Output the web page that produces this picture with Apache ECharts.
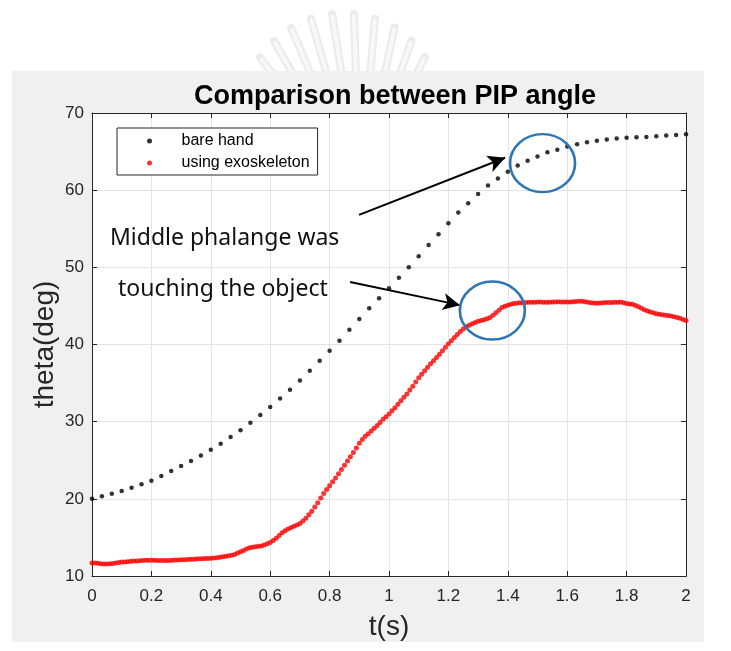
<!DOCTYPE html>
<html>
<head>
<meta charset="utf-8">
<script src="https://cdn.jsdelivr.net/npm/echarts@6/dist/echarts.min.js"></script>
<style>
  html, body { margin: 0; padding: 0; background: #ffffff; }
  #chart { width: 731px; height: 651px; }
</style>
</head>
<body>
<div id="chart"></div>
<script>
// Sampling rates of the two recordings (Hz)
const bareHandRate = 30;
const exoRate = 100;

// PIP joint angle (deg) of the bare hand, one value per frame at 30 Hz, t = 0 .. 2 s
const bareHandTheta = [
  20.00, 20.35, 20.65, 21.00, 21.45, 21.90, 22.35, 22.95, 23.60, 24.25,
  24.90, 25.60, 26.35, 27.15, 28.00, 28.90, 29.85, 30.85, 31.90, 33.00,
  34.15, 35.35, 36.60, 37.90, 39.20, 40.50, 41.90, 43.30, 44.70, 46.00,
  47.30, 48.65, 50.00, 51.45, 52.90, 54.30, 55.70, 57.10, 58.30, 59.50,
  60.60, 61.50, 62.40, 63.20, 63.80, 64.35, 64.90, 65.25, 65.65, 65.95,
  66.20, 66.40, 66.55, 66.70, 66.80, 66.85, 66.90, 67.00, 67.10, 67.15,
  67.24
];

// PIP joint angle (deg) using the exoskeleton, one value per frame at 100 Hz, t = 0 .. 2 s
const exoTheta = [
  11.70, 11.68, 11.64, 11.60, 11.57, 11.55, 11.58, 11.63, 11.70, 11.75,
  11.80, 11.83, 11.86, 11.90, 11.93, 11.95, 11.98, 12.00, 12.03, 12.05,
  12.05, 12.03, 12.01, 12.00, 12.00, 12.00, 12.02, 12.04, 12.06, 12.08,
  12.10, 12.12, 12.14, 12.16, 12.18, 12.20, 12.22, 12.24, 12.26, 12.28,
  12.30, 12.34, 12.38, 12.43, 12.49, 12.55, 12.62, 12.70, 12.80, 12.97,
  13.15, 13.32, 13.50, 13.65, 13.73, 13.80, 13.85, 13.90, 14.02, 14.17,
  14.35, 14.60, 14.90, 15.25, 15.60, 15.88, 16.10, 16.28, 16.45, 16.62,
  16.80, 17.12, 17.50, 17.93, 18.40, 18.93, 19.50, 20.10, 20.70, 21.20,
  21.70, 22.20, 22.70, 23.25, 23.80, 24.35, 24.90, 25.45, 26.00, 26.60,
  27.20, 27.68, 28.10, 28.45, 28.80, 29.15, 29.50, 29.90, 30.30, 30.65,
  31.00, 31.40, 31.80, 32.25, 32.70, 33.15, 33.60, 34.10, 34.60, 35.15,
  35.70, 36.15, 36.60, 37.05, 37.50, 37.90, 38.30, 38.75, 39.20, 39.65,
  40.10, 40.50, 40.90, 41.30, 41.70, 42.00, 42.30, 42.50, 42.70, 42.85,
  43.00, 43.10, 43.20, 43.35, 43.50, 43.80, 44.10, 44.45, 44.80, 44.95,
  45.10, 45.20, 45.30, 45.35, 45.40, 45.42, 45.44, 45.46, 45.48, 45.49,
  45.50, 45.50, 45.48, 45.47, 45.48, 45.50, 45.52, 45.53, 45.52, 45.50,
  45.50, 45.52, 45.55, 45.58, 45.60, 45.60, 45.55, 45.47, 45.40, 45.37,
  45.35, 45.37, 45.40, 45.43, 45.45, 45.45, 45.46, 45.48, 45.50, 45.42,
  45.30, 45.25, 45.20, 45.05, 44.90, 44.70, 44.50, 44.35, 44.20, 44.10,
  44.00, 43.93, 43.87, 43.80, 43.75, 43.70, 43.60, 43.50, 43.40, 43.25,
  43.10
];

// Axis ranges and ticks
const xTicks = [0, 0.2, 0.4, 0.6, 0.8, 1, 1.2, 1.4, 1.6, 1.8, 2];
const yTicks = [10, 20, 30, 40, 50, 60, 70];

// Series names
const seriesNames = ['bare hand', 'using exoskeleton'];

// Callouts: [t, theta] of the highlighted regions and the arrows pointing at them
const highlightCenters = [[1.517, 63.5], [1.348, 44.4]];
const arrowTails = [[0.899, 56.8], [0.869, 48.1]];
const arrowTips = [[1.391, 64.2], [1.239, 45.1]];
const calloutLines = ['Middle phalange was', 'touching the object'];

const bareHandPoints = bareHandTheta.map((v, i) => [i / bareHandRate, v]);
const exoPoints = exoTheta.map((v, i) => [i / exoRate, v]);

const axisColor = '#262626';
const gridColor = '#e3e3e3';
const tickFont = { fontFamily: 'Liberation Sans, Arial, sans-serif', fontSize: 17, color: axisColor };

// Faint fan of rays above the figure panel
const rays = [];
const rayAngles = [-142, -134, -127, -120, -113, -106, -99, -92, -85, -78, -71, -64, -57, -50];
const rayLengths = [150, 160, 166, 172, 176, 178, 178, 176, 172, 166, 158, 148, 135, 122];
rayAngles.forEach((a, k) => {
  const r = a * Math.PI / 180;
  const cx = 360, cy = 190, r0 = 110, r1 = rayLengths[k];
  rays.push({
    type: 'line', silent: true, z: -20,
    shape: { x1: cx + r0 * Math.cos(r), y1: cy + r0 * Math.sin(r), x2: cx + r1 * Math.cos(r), y2: cy + r1 * Math.sin(r) },
    style: { stroke: '#ebebeb', lineWidth: 8, lineCap: 'round' }
  });
  rays.push({
    type: 'line', silent: true, z: -19,
    shape: { x1: cx + r0 * Math.cos(r), y1: cy + r0 * Math.sin(r), x2: cx + (r1 - 2) * Math.cos(r), y2: cy + (r1 - 2) * Math.sin(r) },
    style: { stroke: '#f8f8f8', lineWidth: 4, lineCap: 'round' }
  });
});

const chart = echarts.init(document.getElementById('chart'), null, { renderer: 'canvas' });

const option = {
  backgroundColor: '#ffffff',
  animation: false,
  title: {
    text: 'Comparison between PIP angle',
    left: 390,
    textAlign: 'center',
    top: 78,
    textStyle: { fontFamily: 'Liberation Sans, Arial, sans-serif', fontWeight: 'bold', fontSize: 27, color: '#000000' }
  },
  grid: {
    left: 92, top: 113, width: 594, height: 463,
    show: true, backgroundColor: '#ffffff', borderWidth: 0
  },
  legend: {
    orient: 'vertical',
    left: 117, top: 128,
    padding: [2, 8, 1, 30],
    itemGap: 0,
    itemWidth: 40, itemHeight: 5,
    backgroundColor: '#ffffff',
    borderColor: axisColor, borderWidth: 1,
    borderRadius: 0,
    data: seriesNames.map(n => ({ name: n, icon: 'circle' })),
    textStyle: { fontFamily: 'Liberation Sans, Arial, sans-serif', fontSize: 16, color: '#000000', lineHeight: 22, padding: [0, 0, 0, 7] }
  },
  xAxis: [{
    type: 'value', min: xTicks[0], max: xTicks[xTicks.length - 1], interval: 0.2,
    name: 't(s)', nameLocation: 'middle', nameGap: 37, nameMoveOverlap: false,
    nameTextStyle: { fontFamily: 'Liberation Sans, Arial, sans-serif', fontSize: 28, color: axisColor },
    axisLine: { show: true, lineStyle: { color: axisColor, width: 1 } },
    axisTick: { show: true, inside: true, length: 5, lineStyle: { color: axisColor } },
    axisLabel: Object.assign({ margin: 12, formatter: v => String(+v.toFixed(1)) }, tickFont),
    splitLine: { show: true, lineStyle: { color: gridColor, width: 1 } }
  }, {
    type: 'value', position: 'top', min: xTicks[0], max: xTicks[xTicks.length - 1], interval: 0.2,
    axisLine: { show: true, onZero: false, lineStyle: { color: axisColor, width: 1 } },
    axisTick: { show: true, inside: true, length: 5, lineStyle: { color: axisColor } },
    axisLabel: { show: false }, splitLine: { show: false }
  }],
  yAxis: [{
    type: 'value', min: yTicks[0], max: yTicks[yTicks.length - 1], interval: 10,
    name: 'theta(deg)', nameLocation: 'middle', nameGap: 33, nameMoveOverlap: false,
    nameTextStyle: { fontFamily: 'Liberation Sans, Arial, sans-serif', fontSize: 28, color: axisColor },
    axisLine: { show: true, lineStyle: { color: axisColor, width: 1 } },
    axisTick: { show: true, inside: true, length: 5, lineStyle: { color: axisColor } },
    axisLabel: Object.assign({ margin: 8 }, tickFont),
    splitLine: { show: true, lineStyle: { color: gridColor, width: 1 } }
  }, {
    type: 'value', position: 'right', min: yTicks[0], max: yTicks[yTicks.length - 1], interval: 10,
    axisLine: { show: true, onZero: false, lineStyle: { color: axisColor, width: 1 } },
    axisTick: { show: true, inside: true, length: 5, lineStyle: { color: axisColor } },
    axisLabel: { show: false }, splitLine: { show: false }
  }],
  series: [{
    name: seriesNames[0],
    type: 'scatter',
    data: bareHandPoints,
    symbol: 'circle', symbolSize: 4.5,
    clip: false,
    itemStyle: { color: '#000000' },
    z: 3,
    markLine: {
      silent: true,
      animation: false,
      symbol: ['none', 'triangle'],
      symbolSize: [13, 17],
      label: { show: false },
      lineStyle: { color: '#000000', width: 2, type: 'solid' },
      emphasis: { disabled: true },
      data: arrowTails.map((tail, k) => [
        { coord: tail, symbol: 'none' },
        { coord: arrowTips[k], symbol: 'arrow' }
      ])
    },
    markPoint: {
      silent: true,
      animation: false,
      symbol: 'path://M0,50 A50,50 0 1,1 100,50 A50,50 0 1,1 0,50 Z',
      symbolKeepAspect: false,
      symbolSize: [65, 58],
      label: { show: false },
      itemStyle: { color: 'rgba(0,0,0,0)', borderColor: '#2e75b6', borderWidth: 2.5 },
      data: highlightCenters.map(c => ({ coord: c }))
    }
  }, {
    name: seriesNames[1],
    type: 'scatter',
    data: exoPoints,
    symbol: 'circle', symbolSize: 5,
    clip: false,
    itemStyle: { color: '#ff0000' },
    z: 2
  }],
  graphic: [
    { type: 'rect', silent: true, z: -10, shape: { x: 12, y: 71, width: 692, height: 571 }, style: { fill: '#f0f0f0' } },
    ...rays,
    {
      type: 'text', silent: true, z: 50, left: 110, top: 227,
      style: { text: calloutLines[0], font: '23px "Noto Sans", sans-serif', fill: '#111111' }
    },
    {
      type: 'text', silent: true, z: 50, left: 118, top: 278,
      style: { text: calloutLines[1], font: '23px "Noto Sans", sans-serif', fill: '#111111' }
    }
  ]
};

chart.setOption(option);
</script>
</body>
</html>
